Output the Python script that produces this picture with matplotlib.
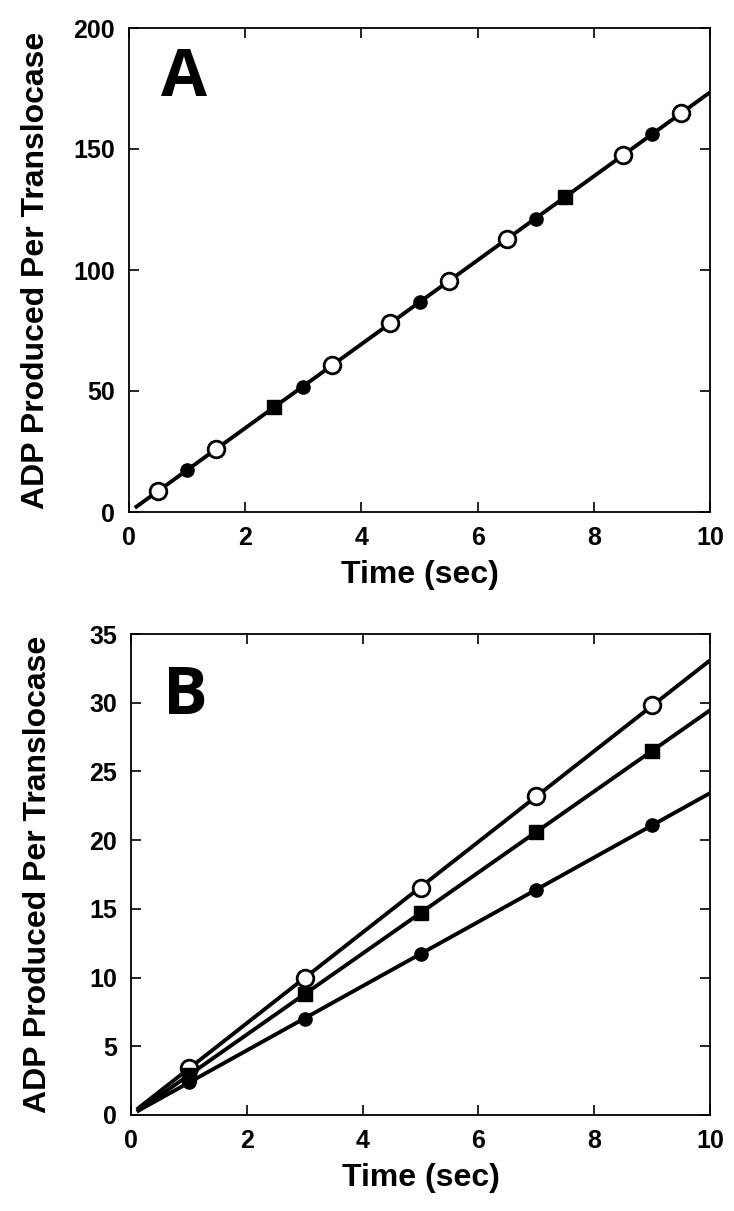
import numpy as np
import matplotlib
matplotlib.use('Agg')
from matplotlib import pyplot as plt

plt.rcParams['font.family'] = ['Liberation Sans', 'DejaVu Sans']
plt.rcParams['font.weight'] = 'bold'

# panel A: one fit through three marker types
a_open_x = [0.5, 1.5, 3.5, 4.5, 5.5, 6.5, 8.5, 9.5]
a_open_y = [8.7, 26.0, 60.7, 78.1, 95.5, 112.8, 147.5, 164.9]
a_fill_x = [1, 3, 5, 7, 9]
a_fill_y = [17.4, 51.7, 86.8, 121.0, 156.0]
a_sq_x = [2.5, 7.5]
a_sq_y = [43.4, 130.0]

# panel B: three series at the same times
b_x = [1, 3, 5, 7, 9]
b_open_y = [3.4, 10.0, 16.5, 23.2, 29.8]
b_sq_y = [2.9, 8.8, 14.7, 20.6, 26.5]
b_fill_y = [2.4, 7.0, 11.7, 16.4, 21.1]

xticks = [0, 2, 4, 6, 8, 10]
a_yticks = [0, 50, 100, 150, 200]
b_yticks = [0, 5, 10, 15, 20, 25, 30, 35]

fig = plt.figure(figsize=(7.34, 12.11), dpi=100)
axA = fig.add_axes([129/734, 1 - 512/1211, 581/734, 484/1211])
axB = fig.add_axes([131/734, 1 - 1115/1211, 579/734, 481/1211])

fit_x = np.array([0.1, 10])
lw = 2.8


def fit_line(ax, xs, ys):
    k, b = np.polyfit(xs, ys, 1)
    ax.plot(fit_x, k * fit_x + b, color='black', lw=lw, zorder=2,
            solid_capstyle='butt')


def open_c(ax, xs, ys):
    ax.plot(xs, ys, 'o', ms=12, mfc='white', mec='black', mew=2.0, zorder=3)


def fill_c(ax, xs, ys):
    ax.plot(xs, ys, 'o', ms=9.5, color='black', zorder=3)


def square(ax, xs, ys):
    ax.plot(xs, ys, 's', ms=9.5, color='black', zorder=3)


# A
fit_line(axA, a_open_x + a_fill_x + a_sq_x, a_open_y + a_fill_y + a_sq_y)
open_c(axA, a_open_x, a_open_y)
fill_c(axA, a_fill_x, a_fill_y)
square(axA, a_sq_x, a_sq_y)
axA.set_ylim(0, 200)
axA.set_yticks(a_yticks)

# B
for ys in (b_open_y, b_sq_y, b_fill_y):
    fit_line(axB, b_x, ys)
open_c(axB, b_x, b_open_y)
square(axB, b_x, b_sq_y)
fill_c(axB, b_x, b_fill_y)
axB.set_ylim(0, 35)
axB.set_yticks(b_yticks)

for ax, letter, ly in ((axA, 'A', 0.895), (axB, 'B', 0.871)):
    ax.set_xlim(0, 10)
    ax.set_xticks(xticks)
    ax.tick_params(direction='in', length=7, width=1.2, top=True, right=True,
                   labelsize=18, pad=10)
    for s in ax.spines.values():
        s.set_linewidth(1.3)
    ax.set_xlabel('Time (sec)', fontsize=23, fontweight='bold')
    ax.set_ylabel('ADP Produced Per Translocase', fontsize=23,
                  fontweight='bold')
    ax.xaxis.set_label_coords(0.5, -0.100)
    ax.yaxis.set_label_coords(-0.135, 0.5)
    ax.text(0.094, ly, letter, transform=ax.transAxes, fontsize=48,
            fontweight='bold', family=['Open Sans', 'DejaVu Sans'],
            ha='center', va='center')

fig.savefig('out.png', dpi=100)
